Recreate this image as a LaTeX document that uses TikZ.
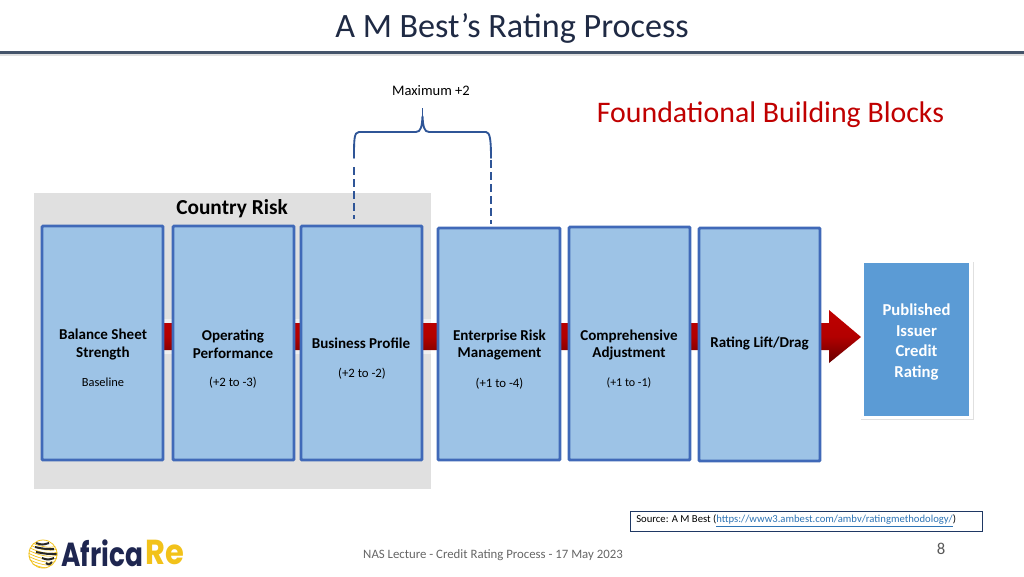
\documentclass[tikz,border=0pt]{standalone}
\usepackage{fontspec}
\setmainfont{Carlito}
\newfontfamily\logofont{Poppins}
\usetikzlibrary{shadings}
\definecolor{boxfill}{HTML}{9DC3E6}
\definecolor{boxline}{HTML}{4069B8}
\definecolor{navy}{HTML}{1F3864}
\definecolor{rulecol}{HTML}{44546A}
\definecolor{pubfill}{HTML}{5B9BD5}
\definecolor{titlecol}{HTML}{1F2A44}
\definecolor{redtext}{HTML}{C00000}
\definecolor{bracecol}{HTML}{2F5597}
\definecolor{greybg}{HTML}{E0E0E0}
\definecolor{logonavy}{HTML}{1E2650}
\definecolor{logoyellow}{HTML}{F2C21A}
\definecolor{linkcol}{HTML}{2E74B5}
\newcommand{\fsz}[1]{\fontsize{#1}{#1}\selectfont}
\tikzset{
  x=0.75pt,y=-0.75pt,
  blockbox/.style={draw=boxline,line width=2.2pt,fill=boxfill,rounded corners=0.8pt,inner sep=0pt,minimum width=0pt},
  mainlabel/.style={font=\fsz{11.3}\bfseries,align=center,text=black,inner sep=0pt},
  sublabel/.style={font=\fsz{9.6},align=center,text=black,inner sep=0pt},
  bracket/.style={draw=bracecol,line width=1.4pt},
  dashline/.style={draw=bracecol,line width=1.4pt,dash pattern=on 6pt off 3pt},
}
\newcommand{\blk}[5]{\path[blockbox] (#2,#3) rectangle (#4,#5); \node[inner sep=0pt] (#1) at ({(#2+#4)/2},{(#3+#5)/2}) {};}
\begin{document}
\begin{tikzpicture}
\useasboundingbox (0,0) rectangle (1024,576);
\fill[white] (0,0) rectangle (1024,576);
% title & rule
\node[font=\fsz{25.6},text=titlecol,inner sep=0pt] (title) at (512,28) {A M Best’s Rating Process};
\fill[black!12] (0,53) rectangle (1024,56);
\fill[rulecol] (0,51) rectangle (1024,54);
\node[font=\fsz{22.4},text=redtext,inner sep=0pt] (foundation) at (770.5,114.5) {Foundational Building Blocks};
% grey country risk panel
\fill[greybg] (34,193) rectangle (431,489);
\node[font=\fsz{16}\bfseries,inner sep=0pt] (country) at (232,209) {Country Risk};
% red arrow behind boxes
\fill[white,opacity=.5] (163,319) rectangle (830,354);
\shade[top color=red!75!black,bottom color=red!40!black,middle color=red!70!black]
  (163,323) -- (829,323) -- (829,310) -- (861,337) -- (829,363) -- (829,350) -- (163,350) -- cycle;
% blocks
\blk{b1}{42}{226}{163}{460}
\blk{b2}{173}{226}{294}{460}
\blk{b3}{301}{226}{422}{460}
\blk{b4}{438}{228}{560}{460}
\blk{b5}{569}{227}{690}{460}
\blk{b6}{699}{228}{820}{461}
\node[mainlabel] (l1) at (103,344.2) {Balance Sheet\\[1.9pt]Strength};
\node[mainlabel] (l2) at (233,344.2) {Operating\\[1.9pt]Performance};
\node[mainlabel] (l3) at (361,343.5) {Business Profile};
\node[mainlabel] (l4) at (499.5,345) {Enterprise Risk\\[1.9pt]Management};
\node[mainlabel] (l5) at (629,345) {Comprehensive\\[1.9pt]Adjustment};
\node[mainlabel] (l6) at (759.5,343.5) {Rating Lift/Drag};
\node[sublabel,font=\fsz{9.3}] (s1) at (103,382.5) {Baseline};
\node[sublabel] (s2) at (233,382.5) {(+2 to -3)};
\node[sublabel] (s3) at (362,374) {(+2 to -2)};
\node[sublabel] (s4) at (499.5,383.5) {(+1 to -4)};
\node[sublabel,font=\fsz{9}] (s5) at (629,383) {(+1 to -1)};
% published box
\fill[black!12] (861,262) rectangle (973.5,420);
\fill[white] (861,260) rectangle (973,419);
\fill[pubfill] (864,263) rectangle (969,416);
\node[font=\fsz{12.5}\bfseries,text=white,align=center,inner sep=0pt] (pub) at (916.5,342) {Published\\[2.9pt]Issuer\\[2.9pt]Credit\\[2.9pt]Rating};
% brace
\node[font=\fsz{10.9},inner sep=0pt] (maxlabel) at (431,90.5) {Maximum +2};
\draw[bracket,line cap=round] (354,158) .. controls (354,140) and (354,132) .. (359,132) -- (416,132) .. controls (421,132) and (422,126) .. (422.5,116) .. controls (423,126) and (424,132) .. (429,132) -- (486,132) .. controls (490,132) and (491,140) .. (491,158);
\draw[dashline] (354,167) -- (354,219);
\draw[dashline] (491,160) -- (491,224);
\draw[dashline] (422.5,108) -- (422.5,118);
% source box
\node[draw=navy,line width=1.3pt,fill=white,minimum width=264pt,minimum height=15pt,inner sep=0pt] (srcbox) at (806.5,521.5) {};
\node[anchor=west,inner sep=0pt,font=\fsz{8.0}] (src) at (636,521) {Source: A M Best ({\color{linkcol}\underline{https://www3.ambest.com/ambv/ratingmethodology/}})};
% footer
\node[font=\fsz{9.6},text=black!60,inner sep=0pt] (footer) at (493,555.5) {NAS Lecture - Credit Rating Process - 17 May 2023};
\node[font=\fsz{12.5},text=black!65,inner sep=0pt] (page) at (941,549) {8};
% logo
\begin{scope}
\clip (43,554) circle (14.5);
\fill[white] (43,554) circle (14.5);
\foreach \d in {0,3,...,27}{
  \draw[logoyellow,line width=.5pt] (28,{541+\d}) .. controls (38,{546+\d}) and (48,{549+\d}) .. (58,{546+\d});
}
\foreach \a/\b/\c/\e in {36/543/49/543, 35/547/54/549, 36/552/57/554, 42/558/54/558, 46/563/52/562}{
  \draw[black!85,line width=1.5pt] (\a,\b) .. controls ({(\a+\c)/2},{\b+2}) .. (\c,\e);
}
\end{scope}
\draw[logoyellow,line width=.6pt] (43,554) circle (14);
\node[font=\logofont\fsz{25}\bfseries,text=logonavy,inner sep=0pt,anchor=west] (africa) at (61,553) {\scalebox{.79}[1]{Africa}};
\node[font=\logofont\fsz{26}\bfseries,text=logoyellow,inner sep=0pt,anchor=west] (re) at (145.5,552) {\scalebox{.88}[1]{Re}};
\end{tikzpicture}
\end{document}
